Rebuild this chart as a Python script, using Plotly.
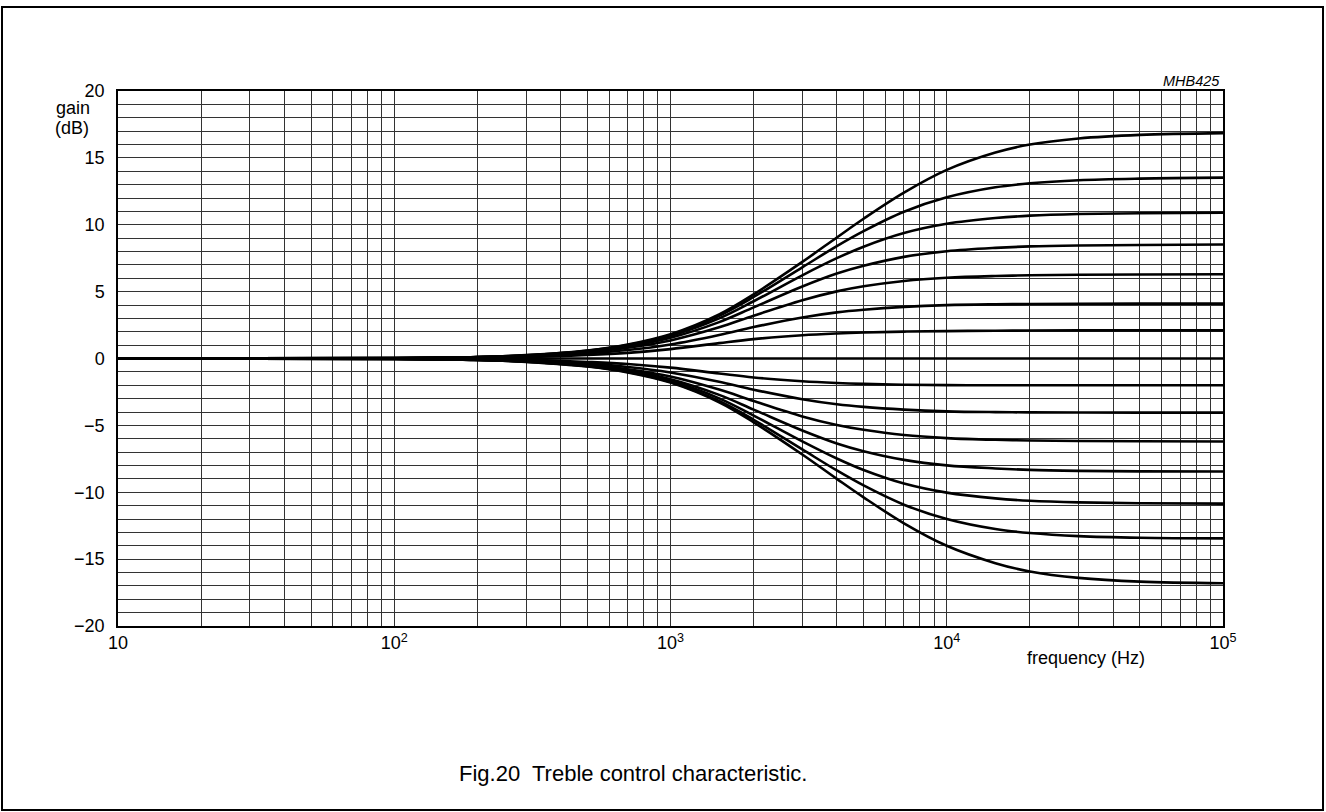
import plotly.graph_objects as go

# ---------------- data ----------------
freq_hz = [10, 100, 200, 300, 500, 700, 1000, 1500, 2000, 3000, 4000, 5000,
           7000, 10000, 15000, 20000, 30000, 50000, 100000]

boost_16_8 = [0, 0.03, 0.11, 0.25, 0.60, 1.05, 1.82, 3.30, 4.80, 7.22, 9.05, 10.45,
              12.40, 14.10, 15.40, 16.00, 16.45, 16.72, 16.85]
boost_13_5 = [0, 0.03, 0.11, 0.24, 0.58, 1.00, 1.76, 3.20, 4.60, 6.82, 8.40, 9.52,
              10.97, 12.05, 12.80, 13.10, 13.33, 13.45, 13.52]
boost_10_9 = [0, 0.03, 0.10, 0.23, 0.56, 0.96, 1.68, 3.00, 4.28, 6.22, 7.50, 8.36,
              9.38, 10.07, 10.50, 10.68, 10.80, 10.86, 10.90]
boost_8_5 = [0, 0.03, 0.10, 0.21, 0.52, 0.89, 1.55, 2.72, 3.82, 5.38, 6.35, 6.93,
             7.60, 8.02, 8.27, 8.38, 8.45, 8.49, 8.52]
boost_6_3 = [0, 0.02, 0.09, 0.19, 0.47, 0.80, 1.35, 2.33, 3.20, 4.36, 5.02, 5.40,
             5.80, 6.04, 6.17, 6.22, 6.26, 6.28, 6.30]
boost_4_1 = [0, 0.02, 0.07, 0.15, 0.38, 0.63, 1.05, 1.76, 2.35, 3.07, 3.45, 3.65,
             3.86, 3.99, 4.05, 4.07, 4.09, 4.10, 4.10]
boost_2_1 = [0, 0.01, 0.05, 0.10, 0.26, 0.42, 0.70, 1.15, 1.45, 1.74, 1.87, 1.94,
             2.01, 2.05, 2.08, 2.09, 2.10, 2.10, 2.10]
flat_0 = [0, 0, 0, 0, 0, 0, 0, 0, 0, 0, 0, 0, 0, 0, 0, 0, 0, 0, 0]
cut_2_0 = [0, -0.01, -0.05, -0.10, -0.26, -0.41, -0.68, -1.12, -1.42, -1.70, -1.83, -1.90,
           -1.96, -1.99, -2.00, -2.00, -2.00, -2.00, -2.00]
cut_4_1 = [0, -0.02, -0.07, -0.15, -0.38, -0.63, -1.04, -1.74, -2.33, -3.04, -3.42, -3.62,
           -3.82, -3.95, -4.01, -4.03, -4.04, -4.05, -4.05]
cut_6_3 = [0, -0.02, -0.09, -0.19, -0.47, -0.80, -1.34, -2.32, -3.18, -4.33, -4.97, -5.33,
           -5.72, -5.95, -6.08, -6.13, -6.17, -6.19, -6.20]
cut_8_5 = [0, -0.03, -0.10, -0.21, -0.52, -0.89, -1.55, -2.72, -3.82, -5.38, -6.35, -6.93,
           -7.58, -7.99, -8.22, -8.33, -8.40, -8.44, -8.45]
cut_10_9 = [0, -0.03, -0.10, -0.23, -0.56, -0.96, -1.67, -2.98, -4.27, -6.20, -7.48, -8.34,
            -9.35, -10.03, -10.46, -10.64, -10.76, -10.82, -10.85]
cut_13_5 = [0, -0.03, -0.11, -0.24, -0.58, -1.00, -1.75, -3.18, -4.58, -6.80, -8.37, -9.49,
            -10.93, -12.00, -12.75, -13.05, -13.28, -13.40, -13.45]
cut_16_8 = [0, -0.03, -0.11, -0.25, -0.60, -1.04, -1.80, -3.27, -4.77, -7.18, -9.00, -10.38,
            -12.32, -14.00, -15.30, -15.92, -16.40, -16.68, -16.80]

curves = [boost_16_8, boost_13_5, boost_10_9, boost_8_5, boost_6_3, boost_4_1, boost_2_1,
          flat_0, cut_2_0, cut_4_1, cut_6_3, cut_8_5, cut_10_9, cut_13_5, cut_16_8]

# tick / grid definitions
x_major_vals = [10, 100, 1000, 10000, 100000]
x_major_text = ["10", "10<sup>2</sup>", "10<sup>3</sup>", "10<sup>4</sup>", "10<sup>5</sup>"]
x_minor_vals = [m * 10 ** e for e in range(1, 5) for m in range(2, 10)]
y_major_vals = [-20, -15, -10, -5, 0, 5, 10, 15, 20]
y_major_text = ["\u221220", "\u221215", "\u221210", "\u22125", "0", "5", "10", "15", "20"]
y_minor_vals = [v for v in range(-20, 21) if v % 5 != 0]

# ---------------- figure ----------------
W, H = 1326, 812
L, R, T, B = 118, 103, 91, 186
PW, PH = W - L - R, H - T - B


def px(x):
    return (x - L) / PW


def py(y):
    return (H - B - y) / PH


FONT = "Liberation Sans, Arial, Helvetica, sans-serif"
GRID = "#333333"

fig = go.Figure()
for c in curves:
    fig.add_trace(go.Scatter(
        x=freq_hz, y=c, mode="lines",
        line=dict(color="black", width=2.6, shape="spline", smoothing=1.0),
        showlegend=False, hoverinfo="skip"))

fig.update_layout(
    width=W, height=H, autosize=False,
    margin=dict(l=L, r=R, t=T, b=B, pad=0),
    paper_bgcolor="white", plot_bgcolor="white",
    font=dict(family=FONT, size=18, color="black"),
    showlegend=False,
    xaxis=dict(type="log", range=[1, 5], tickmode="array",
               tickvals=x_major_vals, ticktext=x_major_text,
               showgrid=True, gridcolor=GRID, gridwidth=1,
               minor=dict(tickmode="array", tickvals=x_minor_vals, showgrid=True,
                          gridcolor=GRID, gridwidth=1, ticks=""),
               ticks="", ticklabelstandoff=0,
               showline=True, linecolor="black", linewidth=1.5, mirror=True,
               zeroline=False, tickfont=dict(size=18)),
    yaxis=dict(range=[-20, 20], tickmode="array",
               tickvals=y_major_vals, ticktext=y_major_text,
               showgrid=True, gridcolor=GRID, gridwidth=1,
               minor=dict(tickmode="array", tickvals=y_minor_vals, showgrid=True,
                          gridcolor=GRID, gridwidth=1, ticks=""),
               ticks="", ticklabelstandoff=8,
               showline=True, linecolor="black", linewidth=1.5, mirror=True,
               zeroline=False, tickfont=dict(size=18)),
)

fig.add_shape(type="rect", xref="paper", yref="paper",
              x0=px(2), x1=px(1323), y0=py(810), y1=py(7),
              line=dict(color="black", width=2), fillcolor="rgba(0,0,0,0)", layer="above")

ann = [
    dict(text="gain", x=px(54), y=py(108), xanchor="left", yanchor="middle", size=18),
    dict(text="(dB)", x=px(53), y=py(128), xanchor="left", yanchor="middle", size=18),
    dict(text="frequency (Hz)", x=px(1086), y=py(658), xanchor="center", yanchor="middle", size=18),
    dict(text="<i>MHB425</i>", x=px(1222), y=py(81), xanchor="right", yanchor="middle", size=14.5),
    dict(text="Fig.20  Treble control characteristic.", x=px(457), y=py(773),
         xanchor="left", yanchor="middle", size=22),
]
for a in ann:
    fig.add_annotation(text=a["text"], x=a["x"], y=a["y"], xref="paper", yref="paper",
                       xanchor=a["xanchor"], yanchor=a["yanchor"], showarrow=False,
                       font=dict(family=FONT, size=a["size"], color="black"))

fig.write_html("out.html",
               config={"displayModeBar": False},
               post_script="document.body.style.margin='0px';document.body.style.overflow='hidden';")
